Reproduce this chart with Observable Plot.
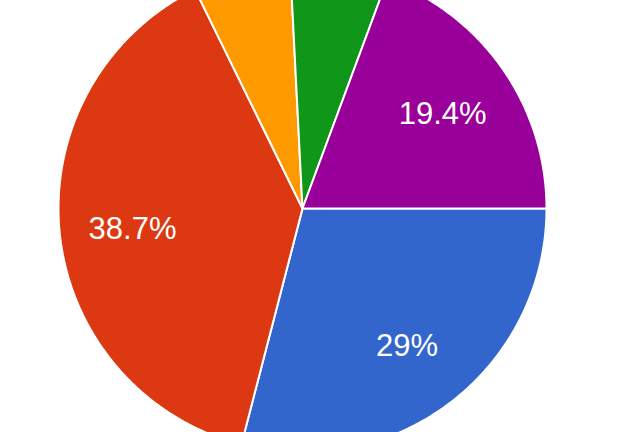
<!DOCTYPE html>
<html>
<head>
<meta charset="utf-8">
<script src="https://cdn.jsdelivr.net/npm/d3@7"></script>
<script src="https://cdn.jsdelivr.net/npm/@observablehq/plot@0.6"></script>
<style>
  html, body { margin: 0; padding: 0; background: #fff; }
  #chart svg { display: block; }
</style>
</head>
<body>
<div id="chart"></div>
<script>
// Data
const categories = ["A", "B", "C", "D", "E"];
const values = [9, 12, 2, 2, 6];
const colors = ["#3366cc", "#dc3912", "#ff9900", "#109618", "#990099"];

const total = d3.sum(values);
const arcs = d3.pie().sort(null).startAngle(Math.PI / 2).endAngle(Math.PI / 2 + 2 * Math.PI)(values);

// Build polygon outlines in unit coordinates
const marks = [];
arcs.forEach((a, i) => {
  const pts = [{x: 0, y: 0}];
  const n = Math.max(8, Math.ceil((a.endAngle - a.startAngle) / 0.01));
  for (let k = 0; k <= n; k++) {
    const t = a.startAngle + (a.endAngle - a.startAngle) * k / n;
    pts.push({x: Math.sin(t), y: Math.cos(t)});
  }
  pts.push({x: 0, y: 0});
  marks.push(Plot.line(pts, {x: "x", y: "y", fill: colors[i], stroke: "white", strokeWidth: 2, strokeLinejoin: "round", curve: "linear"}));
});

const labelData = arcs
  .filter(a => a.value / total >= 0.1)
  .map(a => {
    const m = (a.startAngle + a.endAngle) / 2;
    const r = 0.7;
    return {x: r * Math.sin(m), y: r * Math.cos(m), text: (Math.round(a.value / total * 1000) / 10) + "%"};
  });

marks.push(Plot.text(labelData, {
  x: "x", y: "y", text: "text", fill: "white",
  fontSize: 31, fontFamily: "Liberation Sans, Arial, sans-serif",
  textAnchor: "middle", dy: 3
}));

const chart = Plot.plot({
  width: 620,
  height: 432,
  x: {domain: [-1, 1], range: [58, 546], axis: null},
  y: {domain: [-1, 1], range: [452, -36], axis: null},
  style: {background: "white"},
  marks
});
document.getElementById("chart").appendChild(chart);
</script>
</body>
</html>
